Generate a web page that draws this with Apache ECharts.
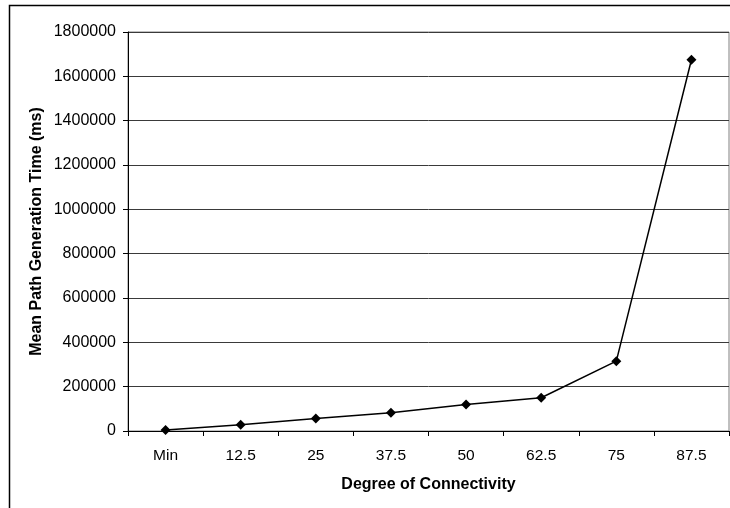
<!DOCTYPE html>
<html>
<head>
<meta charset="utf-8">
<script src="https://cdn.jsdelivr.net/npm/echarts@6/dist/echarts.min.js"></script>
<style>
  html, body { margin: 0; padding: 0; background: #fff; }
  #chart { width: 730px; height: 508px; }
</style>
</head>
<body>
<div id="chart"></div>
<script>
// Mean path generation time by degree of connectivity
const categories = ['Min', '12.5', '25', '37.5', '50', '62.5', '75', '87.5'];
const meanTimes = [4000, 28000, 56000, 82000, 120000, 150000, 315000, 1675000];
const yMin = 0;
const yMax = 1800000;
const yStep = 200000;

const chart = echarts.init(document.getElementById('chart'));
const font = 'Liberation Sans, Arial, sans-serif';

chart.setOption({
  animation: false,
  backgroundColor: '#ffffff',
  graphic: [{
    type: 'rect',
    shape: { x: 9.5, y: 5.5, width: 800, height: 600 },
    style: { fill: 'none', stroke: '#000', lineWidth: 1.5 },
    silent: true
  }],
  grid: {
    left: 128, top: 32, right: 1, bottom: 77,
    show: true, borderColor: '#808080', borderWidth: 1,
    backgroundColor: 'transparent'
  },
  xAxis: {
    type: 'category',
    data: categories,
    boundaryGap: true,
    name: 'Degree of Connectivity',
    nameLocation: 'middle',
    nameGap: 46,
    nameMoveOverlap: false,
    nameTextStyle: { fontFamily: font, fontSize: 16, fontWeight: 'bold', color: '#000' },
    axisLine: { lineStyle: { color: '#000', width: 1 } },
    axisTick: { show: true, alignWithLabel: false, length: 5, lineStyle: { color: '#000' } },
    axisLabel: { fontFamily: font, fontSize: 15.5, color: '#000', margin: 17 }
  },
  yAxis: {
    type: 'value',
    min: yMin, max: yMax, interval: yStep,
    name: 'Mean Path Generation Time (ms)',
    nameLocation: 'middle',
    nameGap: 83,
    nameMoveOverlap: false,
    nameTextStyle: { fontFamily: font, fontSize: 16, fontWeight: 'bold', color: '#000' },
    axisLine: { show: true, lineStyle: { color: '#000', width: 1 } },
    axisTick: { show: true, length: 5, lineStyle: { color: '#000' } },
    axisLabel: {
      fontFamily: font, fontSize: 16, color: '#000', margin: 12,
      formatter: v => String(v)
    },
    splitLine: { show: true, lineStyle: { color: '#3a3a3a', width: 1 } }
  },
  series: [{
    type: 'line',
    data: meanTimes,
    symbol: 'diamond',
    symbolSize: 10,
    lineStyle: { color: '#000', width: 1.5 },
    itemStyle: { color: '#000' }
  }]
});
</script>
</body>
</html>
